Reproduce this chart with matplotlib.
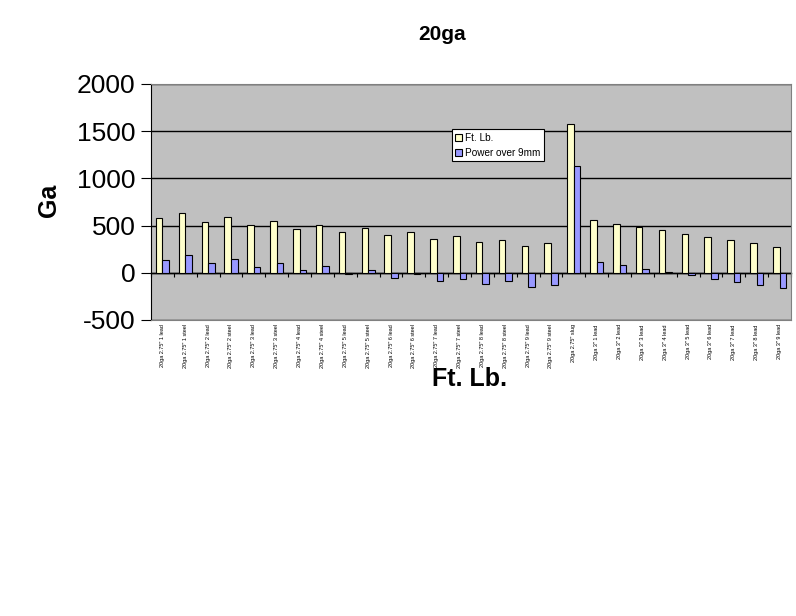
import matplotlib
matplotlib.use("Agg")
import matplotlib.pyplot as plt
from matplotlib import font_manager
import numpy as np

plt.rcParams['font.family'] = ['Liberation Sans', 'DejaVu Sans']

categories = [
    '20ga 2.75" 1 lead', '20ga 2.75" 1 steel', '20ga 2.75" 2 lead', '20ga 2.75" 2 steel',
    '20ga 2.75" 3 lead', '20ga 2.75" 3 steel', '20ga 2.75" 4 lead', '20ga 2.75" 4 steel',
    '20ga 2.75" 5 lead', '20ga 2.75" 5 steel', '20ga 2.75" 6 lead', '20ga 2.75" 6 steel',
    '20ga 2.75" 7 lead', '20ga 2.75" 7 steel', '20ga 2.75" 8 lead', '20ga 2.75" 8 steel',
    '20ga 2.75" 9 lead', '20ga 2.75" 9 steel', '20ga 2.75" slug',
    '20ga 3" 1 lead', '20ga 3" 2 lead', '20ga 3" 3 lead', '20ga 3" 4 lead',
    '20ga 3" 5 lead', '20ga 3" 6 lead', '20ga 3" 7 lead', '20ga 3" 8 lead', '20ga 3" 9 lead',
]
ft_lb = [577, 630, 535, 588, 503, 545, 460, 503, 429, 471, 397, 429, 355, 386,
         323, 344, 281, 312, 1573, 556, 513, 485, 450, 408, 376, 344, 312, 270]
power_over_9mm = [132, 185, 104, 143, 58, 104, 26, 69, -8, 26, -52, -8, -90, -62,
                  -122, -90, -154, -133, 1128, 111, 79, 37, 5, -23, -69, -101, -133, -164]
y_ticks = [-500, 0, 500, 1000, 1500, 2000]

names = {f.name for f in font_manager.fontManager.ttflist}
tick_family = ['Liberation Sans Narrow'] if 'Liberation Sans Narrow' in names else ['Liberation Sans']
tick_size = 4.8 if 'Liberation Sans Narrow' in names else 4.0

W, H = 796, 616
fig = plt.figure(figsize=(W / 100, H / 100), dpi=100)
ax = fig.add_axes([151 / W, 1 - 320 / H, (791 - 151) / W, (320 - 84) / H])
ax.set_facecolor('#C0C0C0')

x = np.arange(len(categories))
bw = 0.29
ax.bar(x - bw / 2, ft_lb, bw, color='#FFFFCC', edgecolor='black', linewidth=0.8,
       label='Ft. Lb.', zorder=3)
ax.bar(x + bw / 2, power_over_9mm, bw, color='#9999FF', edgecolor='black', linewidth=0.8,
       label='Power over 9mm', zorder=3)

ax.set_xlim(-0.5, len(categories) - 0.5)
ax.set_ylim(-500, 2000)
ax.set_yticks(y_ticks)
ax.set_yticklabels([str(v) for v in y_ticks], fontsize=19)
ax.tick_params(axis='y', length=7, width=0.8, direction='out', pad=4)
ax.yaxis.grid(True, color='black', linewidth=1.0, zorder=1)
ax.set_axisbelow(True)

ax.set_xticks(x)
ax.set_xticklabels(categories, rotation=90, fontsize=tick_size, family=tick_family)
ax.tick_params(axis='x', length=0, pad=3)

for s in ['top', 'right', 'bottom']:
    ax.spines[s].set_color('#808080')
    ax.spines[s].set_linewidth(0.8)
ax.spines['left'].set_color('black')

# category axis crossing at zero
zero_pos = (0 - (-500)) / 2500
sec = ax.secondary_xaxis(zero_pos)
sec.set_xticks(np.arange(len(categories) + 1) - 0.5)
sec.set_xticklabels([])
sec.tick_params(axis='x', length=3, width=0.8, direction='out', colors='black')
sec.spines['bottom'].set_color('black')
sec.spines['bottom'].set_linewidth(1.0)
sec.spines['bottom'].set_zorder(4)

fig.text(442 / W, 1 - 35 / H, '20ga', fontsize=15, fontweight='bold', ha='center', va='center')
fig.text(49 / W, 1 - 200 / H, 'Ga', fontsize=18, fontweight='bold', rotation=90,
         ha='center', va='center')
fig.text(470 / W, 1 - 379 / H, 'Ft. Lb.', fontsize=18, fontweight='bold', ha='center', va='center')

leg = ax.legend(loc='upper left', bbox_to_anchor=(451.7 / W, 1 - 129.3 / H),
                bbox_transform=fig.transFigure, fontsize=7.2, frameon=True, fancybox=False,
                framealpha=1, edgecolor='black', borderpad=0.35, labelspacing=0.5,
                handlelength=0.7, handleheight=0.7, handletextpad=0.3, borderaxespad=0)
leg.get_frame().set_linewidth(0.8)
leg.set_zorder(5)

fig.savefig('out.png', dpi=100)
